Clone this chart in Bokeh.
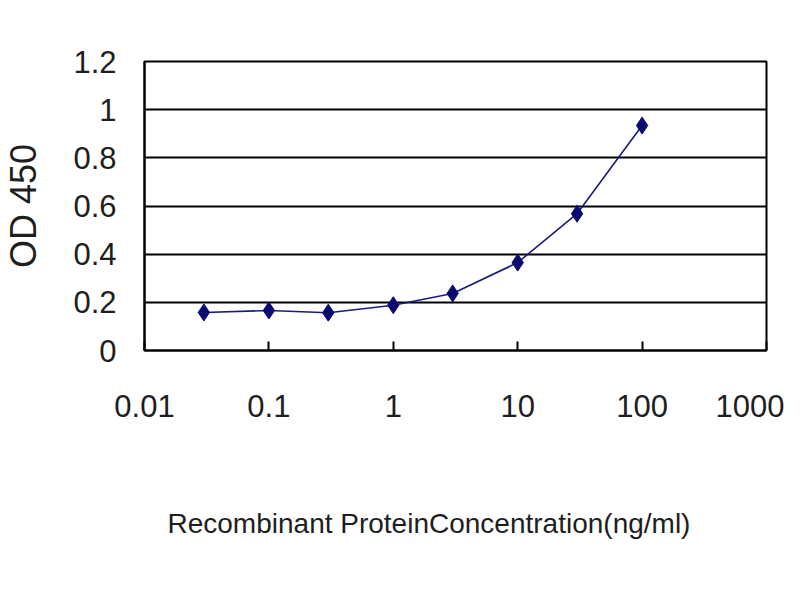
from bokeh.plotting import figure
from bokeh.models import FixedTicker, CustomJSTickFormatter, Range1d, Title
from bokeh.embed import file_html
from bokeh.resources import INLINE

conc = [0.03, 0.1, 0.3, 1, 3, 10, 30, 100]
od450 = [0.158, 0.166, 0.157, 0.188, 0.237, 0.365, 0.568, 0.934]
x_ticks = [0.01, 0.1, 1, 10, 100, 1000]
y_ticks = [0, 0.2, 0.4, 0.6, 0.8, 1.0, 1.2]
x_title = "Recombinant ProteinConcentration(ng/ml)"
y_title = "OD 450"

FONT = "Liberation Sans"

p = figure(width=784, height=584, x_axis_type="log",
           x_range=Range1d(0.01, 1000), y_range=Range1d(0, 1.2),
           output_backend="svg", toolbar_location=None,
           min_border_left=143, min_border_right=18,
           min_border_top=61, min_border_bottom=234)

p.outline_line_color = "black"
p.outline_line_width = 2
p.background_fill_color = "white"
p.border_fill_color = "white"

p.xgrid.visible = False
p.ygrid.ticker = FixedTicker(ticks=y_ticks)
p.ygrid.grid_line_color = "black"
p.ygrid.grid_line_width = 2

p.xaxis.ticker = FixedTicker(ticks=x_ticks)
p.xaxis.formatter = CustomJSTickFormatter(code="return tick.toString();")
p.yaxis.ticker = FixedTicker(ticks=y_ticks)
p.yaxis.formatter = CustomJSTickFormatter(code="return parseFloat(tick.toFixed(1)).toString();")

for ax in (p.xaxis, p.yaxis):
    ax.axis_line_color = "black"
    ax.axis_line_width = 2
    ax.major_label_text_font = FONT
    ax.major_label_text_font_size = "31px"
    ax.major_label_text_color = "#1e1e1e"
    ax.axis_label_text_font = FONT
    ax.axis_label_text_font_style = "normal"
    ax.axis_label_text_color = "#1e1e1e"
    ax.minor_tick_line_color = None

p.xaxis.major_tick_in = 9
p.xaxis.major_tick_out = 0
p.xaxis.major_tick_line_color = "black"
p.xaxis.major_tick_line_width = 2
p.xaxis.major_label_standoff = 44

p.yaxis.major_tick_in = 0
p.yaxis.major_tick_out = 0
p.yaxis.major_label_standoff = 28
p.yaxis.axis_label = y_title
p.yaxis.axis_label_text_font_size = "36px"
p.yaxis.axis_label_standoff = 26

# empty spacer panel between the axis and the x-axis title
p.add_layout(Title(text=" ", standoff=48, text_font=FONT, text_font_size="28px"), "below")
p.add_layout(Title(text=x_title, align="left", offset=23, standoff=10,
                   text_font=FONT, text_font_size="28px", text_font_style="normal",
                   text_color="#1e1e1e"), "below")

p.line(conc, od450, line_color="#1a1a80", line_width=1.6)
p.scatter(conc, od450, marker="diamond", size=17, fill_color="#0a0a70", line_color="#0a0a70")

open("out.html", "w").write(file_html(p, INLINE))
